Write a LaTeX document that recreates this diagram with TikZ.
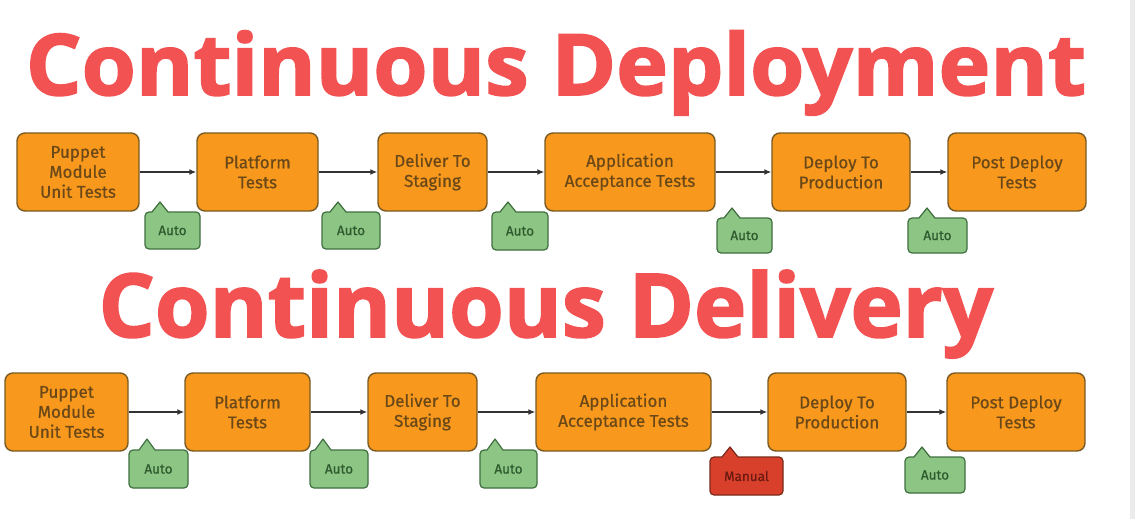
\documentclass[tikz,border=0pt]{standalone}
\usepackage{fontspec}
\setmainfont{Fira Sans}
\newfontfamily\titlefont[BoldFeatures={FakeBold=2}]{Open Sans}
\newfontfamily\boxfont[FakeBold=0.6]{Fira Sans}
\usetikzlibrary{arrows.meta}
\definecolor{titlered}{HTML}{F25252}
\definecolor{boxfill}{HTML}{F8981D}
\definecolor{boxline}{HTML}{7A5A22}
\definecolor{boxtext}{HTML}{6A4818}
\definecolor{autofill}{HTML}{8DC585}
\definecolor{autoline}{HTML}{3F6F3F}
\definecolor{autotext}{HTML}{2E5A2E}
\definecolor{manfill}{HTML}{D9402C}
\definecolor{manline}{HTML}{7A2A1A}
\definecolor{mantext}{HTML}{6A1A10}
\definecolor{arrowcol}{HTML}{333333}
\tikzset{
  stagebox/.style={draw=boxline, fill=boxfill, line width=1.4pt, rounded corners=8pt,
    text=boxtext, align=center, font=\boxfont\fontsize{17}{20}\selectfont, inner sep=0pt},
  flow/.style={draw=arrowcol, line width=1.4pt, -{Latex[length=7pt,width=6pt]}},
  titletext/.style={text=titlered, font=\titlefont\bfseries\fontsize{84}{90}\selectfont, anchor=base, inner sep=0pt},
  autobox/.style={draw=autoline, fill=autofill, line width=1.2pt, rounded corners=4pt,
    text=autotext, font=\boxfont\fontsize{13.5}{15}\selectfont, inner sep=0pt},
  manbox/.style={draw=manline, fill=manfill, line width=1.2pt, rounded corners=4pt,
    text=mantext, font=\boxfont\fontsize{13.5}{15}\selectfont, inner sep=0pt},
}
% \stage{name}{x1}{x2}{ytop}{ybot}{text}
\newcommand{\stage}[6]{%
  \node[stagebox, minimum width={(#3-#2)*1pt}, minimum height={(#5-#4)*1pt}]
    (#1) at ({(#2+#3)/2},{(#4+#5)/2}) {#6};}
% \callout{kind}{name}{x1}{x2}{ytop}{ybot}{tipx}{tipy}{text}
\newcommand{\callout}[9]{%
  \node[#1box, minimum width={(#4-#3)*1pt}, minimum height={(#6-#5)*1pt}]
    (#2) at ({(#3+#4)/2},{(#5+#6)/2}) {#9};
  \fill[#1fill] ({#7-8},{#5+1}) -- (#7,#8) -- ({#7+8},{#5+1}) -- cycle;
  \draw[#1line, line width=1.2pt, line join=round] ({#7-8},#5) -- (#7,#8) -- ({#7+8},#5);}
\begin{document}
\begin{tikzpicture}[x=1pt,y=-1pt]
\useasboundingbox (0,0) rectangle (1135,519);
\fill[white] (0,0) rectangle (1135,519);
\fill[black!8] (1130,0) rectangle (1135,519);

\node[titletext] (t1) at (556,95) {\scalebox{1.043}[1.01]{Continuous Deployment}};
\node[titletext] (t2) at (546,337) {\scalebox{1.052}[1.05]{Continuous Delivery}};

% top row
\stage{a1}{17}{139}{133}{211}{Puppet\\Module\\Unit Tests}
\stage{a2}{197}{318}{133}{211}{Platform\\Tests}
\stage{a3}{378}{487}{133}{211}{Deliver To\\Staging}
\stage{a4}{545}{715}{133}{211}{Application\\Acceptance Tests}
\stage{a5}{772}{910}{133}{211}{Deploy To\\Production}
\stage{a6}{948}{1086}{133}{211}{Post Deploy\\Tests}
\draw[flow] (a1) -- (a2);
\draw[flow] (a2) -- (a3);
\draw[flow] (a3) -- (a4);
\draw[flow] (a4) -- (a5);
\draw[flow] (a5) -- (a6);

\callout{auto}{c1}{145}{200}{212}{249}{160}{202}{Auto}
\callout{auto}{c2}{322}{380}{212}{249}{338}{202}{Auto}
\callout{auto}{c3}{492}{548}{212}{250}{508}{202}{Auto}
\callout{auto}{c4}{717}{772}{218}{253}{732}{208}{Auto}
\callout{auto}{c5}{908}{967}{218}{253}{927}{208}{Auto}

% bottom row
\stage{b1}{5}{128}{373}{451}{Puppet\\Module\\Unit Tests}
\stage{b2}{185}{310}{373}{451}{Platform\\Tests}
\stage{b3}{368}{477}{373}{451}{Deliver To\\Staging}
\stage{b4}{536}{711}{373}{451}{Application\\Acceptance Tests}
\stage{b5}{768}{906}{373}{451}{Deploy To\\Production}
\stage{b6}{947}{1085}{373}{451}{Post Deploy\\Tests}
\draw[flow] (b1) -- (b2);
\draw[flow] (b2) -- (b3);
\draw[flow] (b3) -- (b4);
\draw[flow] (b4) -- (b5);
\draw[flow] (b5) -- (b6);

\callout{auto}{d1}{129}{188}{450}{488}{147}{439}{Auto}
\callout{auto}{d2}{310}{368}{450}{488}{323}{439}{Auto}
\callout{auto}{d3}{480}{537}{450}{488}{495}{439}{Auto}
\callout{man}{d4}{710}{783}{457}{495}{730}{447}{Manual}
\callout{auto}{d5}{905}{965}{457}{493}{922}{447}{Auto}
\end{tikzpicture}
\end{document}
